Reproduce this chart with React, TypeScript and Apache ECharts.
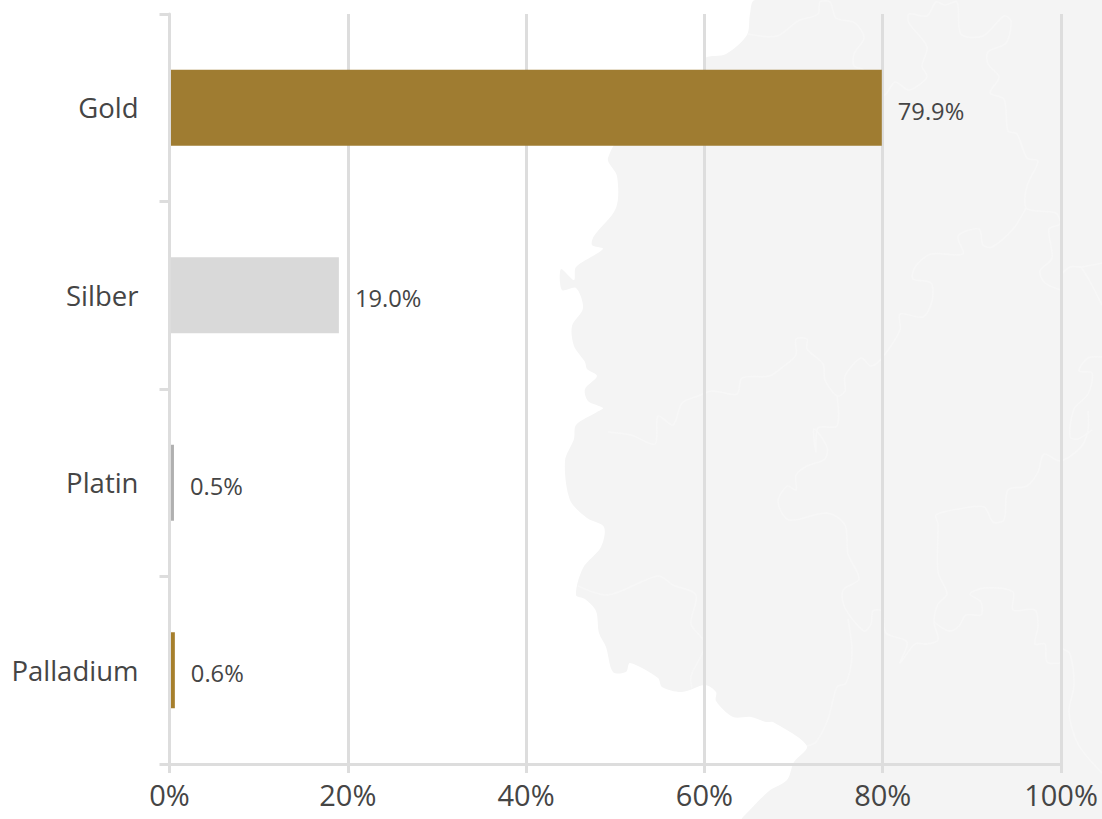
import React, { useEffect, useRef } from "react";
import * as echarts from "echarts";

// Precious metal shares of the portfolio
const metals = ["Gold", "Silber", "Platin", "Palladium"];
const shares = [79.9, 19.0, 0.5, 0.6];
const metalColors = ["#9f7c31", "#d9d9d9", "#b0b0b0", "#a67f2c"];

const TEXT = "#454545";
const RULE = "#dddddd";
const LAND = "#f4f4f4";
const BORDER = "#f7f7f7";
const FONT = "'Open Sans', sans-serif";

// Backdrop: outline of the country, pixel coordinates on the 1102x819 stage
const landOutline: number[][] = [
  [755, 0], [750, 14], [747, 35], [726, 54], [705, 58], [702, 72], [640, 110], [608, 158], [617, 176], [616, 208],
  [594, 236], [592, 245], [603, 249], [576, 267], [574, 280], [561, 269], [562, 290], [576, 288], [583, 308],
  [572, 326], [574, 346], [585, 362], [587, 369], [597, 376], [585, 389], [588, 401], [603, 408], [597, 412],
  [576, 425], [574, 439], [565, 461], [570, 500], [587, 518], [604, 527], [601, 547], [583, 568], [576, 595],
  [585, 599], [596, 611], [599, 633], [606, 647], [613, 672], [626, 672], [630, 663], [658, 678], [662, 687],
  [682, 692], [705, 685], [716, 692], [716, 701], [733, 717], [751, 717], [766, 722], [773, 722], [807, 746],
  [794, 762], [787, 780], [769, 791], [744, 816], [742, 819], [1102, 819], [1102, 0],
];

// Backdrop: internal state borders
const landBorders: number[][][] = [
  [[748, 34], [777, 36], [798, 21], [818, 14], [820, 2], [830, 2], [836, 18], [855, 23], [864, 38], [854, 54], [854, 66], [864, 70], [884, 95], [895, 82], [909, 90], [927, 77], [922, 66], [927, 47], [909, 23], [909, 14], [927, 16], [936, 2], [945, 5], [957, 2], [961, 34], [983, 36], [1004, 16], [1011, 21], [1006, 43], [988, 52], [988, 64], [999, 77], [990, 93], [1004, 99], [1008, 131], [1017, 134], [1027, 158], [1038, 161], [1027, 186], [1026, 208], [1038, 211], [1056, 213], [1060, 224], [1049, 229], [1052, 258], [1040, 271], [1045, 283], [1061, 290]],
  [[1026, 208], [1013, 229], [992, 247], [983, 245], [979, 229], [958, 236], [963, 254], [931, 254], [915, 267], [913, 279], [931, 283], [932, 301], [923, 317], [900, 314], [900, 330], [882, 358], [871, 366], [861, 358], [845, 376], [845, 391], [837, 396], [825, 380], [823, 364], [807, 349], [807, 339], [796, 339], [796, 355], [784, 366], [769, 376], [742, 378], [737, 394], [712, 391], [698, 396], [682, 403], [673, 425], [658, 416], [655, 444], [631, 435], [608, 432]],
  [[837, 396], [837, 426], [818, 428], [816, 452], [814, 429], [827, 447], [825, 459], [807, 466], [796, 475], [796, 490], [787, 486], [778, 502], [789, 520], [827, 513], [845, 525], [848, 554], [859, 579], [843, 590], [845, 608], [864, 631], [871, 624], [873, 611], [882, 611], [886, 633], [907, 642], [900, 663], [915, 644], [927, 644], [938, 640], [934, 622], [938, 604], [947, 594], [938, 572], [938, 524], [936, 515], [959, 509], [984, 507], [993, 522], [1004, 520], [1008, 490], [1027, 486], [1038, 472], [1044, 454], [1060, 461], [1081, 447], [1088, 430], [1088, 411]],
  [[934, 622], [949, 631], [959, 626], [966, 615], [981, 615], [981, 602], [970, 594], [984, 588], [1013, 592], [1013, 610], [1035, 610], [1038, 626], [1035, 644], [1045, 644], [1047, 662], [1060, 663]],
  [[848, 619], [852, 654], [846, 683], [837, 687], [828, 719], [816, 742], [807, 746]],
  [[578, 586], [608, 595], [658, 576], [673, 585], [696, 595], [691, 624], [705, 644], [691, 676], [692, 688]],
  [[1063, 649], [1070, 654], [1074, 685], [1069, 712], [1078, 744], [1102, 773]],
  [[1060, 276], [1070, 267], [1081, 267], [1102, 263]],
  [[1081, 267], [1088, 278], [1102, 305]],
  [[1102, 357], [1088, 358], [1079, 371], [1092, 373], [1088, 394], [1074, 409], [1070, 437], [1078, 439], [1092, 430]],
];

export default function App() {
  const ref = useRef<HTMLDivElement>(null);

  useEffect(() => {
    document.body.style.margin = "0";
    const chart = echarts.init(ref.current!, undefined, { renderer: "svg" });
    chart.setOption({
      animation: false,
      backgroundColor: "#ffffff",
      grid: { left: 169.5, right: 41, top: 14, bottom: 55, containLabel: false },
      graphic: {
        elements: [
          {
            type: "polygon",
            z: -10,
            silent: true,
            shape: { points: landOutline, smooth: 0.3 },
            style: { fill: LAND, stroke: "none" },
          },
          ...landBorders.map((points) => ({
            type: "polyline",
            z: -9,
            silent: true,
            shape: { points, smooth: 0.3 },
            style: { fill: "none", stroke: BORDER, lineWidth: 1.5 },
          })),
        ],
      },
      xAxis: {
        type: "value",
        min: 0,
        max: 100,
        interval: 20,
        axisLine: { show: true, lineStyle: { color: RULE, width: 3 } },
        axisTick: { show: true, length: 9, lineStyle: { color: RULE, width: 3 } },
        splitLine: { show: true, lineStyle: { color: RULE, width: 3 } },
        axisLabel: {
          color: TEXT,
          fontFamily: FONT,
          fontSize: 29,
          margin: 16,
          formatter: "{value}%",
        },
      },
      yAxis: {
        type: "category",
        inverse: true,
        data: metals,
        z: 3,
        axisLine: { show: true, lineStyle: { color: RULE, width: 3 } },
        axisTick: { show: true, length: 10, lineStyle: { color: RULE, width: 3 } },
        splitLine: { show: false },
        axisLabel: {
          color: TEXT,
          fontFamily: FONT,
          fontSize: 27.5,
          margin: 31,
          padding: [0, 0, 3, 0],
        },
      },
      series: [
        {
          type: "bar",
          barWidth: 76,
          data: shares.map((value, i) => ({
            value,
            itemStyle: { color: metalColors[i] },
          })),
          label: {
            show: true,
            position: "right",
            distance: 16,
            offset: [0, 3],
            color: TEXT,
            fontFamily: FONT,
            fontSize: 23.7,
            formatter: (p: any) => `${p.value.toFixed(1)}%`,
          },
        },
      ],
    });
    return () => chart.dispose();
  }, []);

  return <div ref={ref} style={{ width: 1102, height: 819 }} />;
}
